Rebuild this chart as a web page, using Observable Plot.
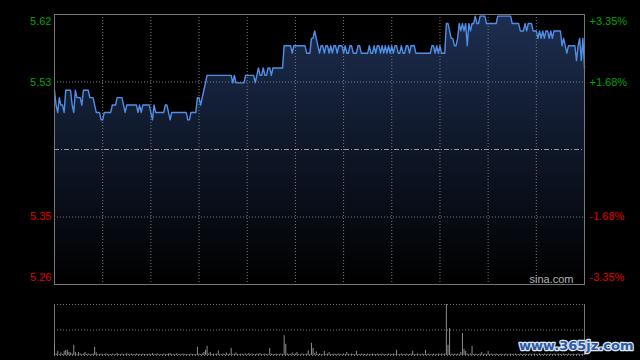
<!DOCTYPE html>
<html><head><meta charset="utf-8">
<script src="https://cdn.jsdelivr.net/npm/d3@7"></script>
<script src="https://cdn.jsdelivr.net/npm/@observablehq/plot@0.6"></script>
<style>
html,body{margin:0;padding:0;background:#000;}
#chart{position:relative;width:640px;height:360px;overflow:hidden;background:#000;}
#chart svg{display:block;}
</style></head><body><div id="chart"></div>
<script>
// previous close and intraday minute prices (HK session, 331 minutes)
const prevClose = 5.44;
const prices = [
5.52,5.50,5.49,5.51,5.50,5.50,5.49,5.52,5.52,5.52,
5.52,5.50,5.49,5.52,5.51,5.51,5.51,5.50,5.52,5.52,
5.52,5.52,5.51,5.51,5.51,5.50,5.49,5.49,5.49,5.48,
5.48,5.49,5.49,5.49,5.49,5.49,5.50,5.50,5.50,5.51,
5.51,5.51,5.51,5.50,5.49,5.50,5.50,5.50,5.50,5.50,
5.50,5.50,5.49,5.50,5.49,5.50,5.50,5.50,5.50,5.50,
5.49,5.48,5.50,5.49,5.49,5.49,5.49,5.49,5.49,5.50,
5.50,5.49,5.48,5.49,5.49,5.49,5.49,5.49,5.49,5.49,
5.49,5.49,5.49,5.48,5.48,5.49,5.49,5.49,5.49,5.51,
5.51,5.50,5.51,5.52,5.53,5.54,5.54,5.54,5.54,5.54,
5.54,5.54,5.54,5.54,5.54,5.54,5.54,5.54,5.54,5.54,
5.54,5.53,5.54,5.53,5.53,5.53,5.53,5.53,5.53,5.54,
5.54,5.54,5.54,5.54,5.54,5.53,5.54,5.55,5.54,5.54,
5.55,5.54,5.54,5.55,5.55,5.54,5.55,5.55,5.55,5.55,
5.55,5.55,5.55,5.58,5.58,5.58,5.58,5.58,5.57,5.58,
5.58,5.58,5.58,5.58,5.58,5.58,5.58,5.57,5.57,5.57,
5.59,5.59,5.60,5.59,5.58,5.57,5.58,5.58,5.57,5.58,
5.58,5.57,5.58,5.57,5.58,5.58,5.57,5.58,5.58,5.58,
5.57,5.58,5.57,5.57,5.58,5.58,5.57,5.57,5.57,5.58,
5.58,5.57,5.57,5.57,5.57,5.57,5.58,5.57,5.57,5.58,
5.57,5.58,5.58,5.57,5.58,5.57,5.58,5.57,5.58,5.57,
5.58,5.57,5.58,5.58,5.57,5.57,5.58,5.57,5.57,5.58,
5.58,5.57,5.58,5.58,5.58,5.57,5.57,5.57,5.57,5.57,
5.57,5.57,5.57,5.57,5.57,5.58,5.58,5.57,5.58,5.57,
5.58,5.57,5.57,5.57,5.61,5.61,5.60,5.59,5.59,5.58,
5.58,5.59,5.61,5.60,5.61,5.60,5.61,5.58,5.61,5.60,
5.61,5.61,5.62,5.61,5.61,5.62,5.62,5.62,5.62,5.61,
5.61,5.61,5.61,5.61,5.61,5.61,5.62,5.62,5.62,5.62,
5.62,5.62,5.62,5.62,5.62,5.61,5.61,5.61,5.61,5.61,
5.60,5.60,5.60,5.61,5.60,5.61,5.61,5.61,5.60,5.60,
5.60,5.59,5.60,5.59,5.60,5.59,5.60,5.60,5.59,5.60,
5.59,5.60,5.60,5.60,5.60,5.60,5.58,5.59,5.58,5.57,
5.58,5.58,5.58,5.58,5.58,5.56,5.58,5.59,5.56,5.59,
5.55
];
// per-minute volume (relative units)
const volumes = [
23,3,8,2,5,2,8,10,10,6,
5,3,20,6,2,6,3,2,3,6,
2,3,2,2,3,16,5,2,2,3,
2,2,3,2,2,2,3,2,2,4,
2,2,3,2,2,4,2,2,3,2,
2,3,2,2,2,3,2,2,2,3,
2,4,2,2,3,2,2,2,3,2,
2,3,4,2,2,2,3,2,2,2,
3,2,2,2,2,3,2,2,2,16,
3,2,3,6,10,18,3,6,2,3,
2,3,9,2,2,3,2,5,2,3,
14,2,3,5,2,2,3,2,2,3,
2,4,2,3,2,2,3,2,4,2,
2,3,2,2,14,3,2,2,3,2,
2,3,2,39,22,3,2,2,5,2,
3,6,2,2,3,2,2,3,9,2,
24,14,3,7,2,3,2,2,8,2,
3,6,2,2,3,2,2,3,2,2,
3,2,6,2,2,3,2,2,8,2,
2,3,2,2,2,3,2,2,3,2,
2,3,2,2,3,2,2,2,3,2,
2,3,2,10,2,2,3,2,2,3,
2,2,3,8,2,2,3,2,2,3,
2,10,2,3,2,2,3,2,2,3,
2,3,2,3,100,20,53,3,2,3,
2,3,2,6,43,12,8,3,2,3,
18,2,3,2,2,3,6,2,3,2,
8,2,3,2,2,3,2,2,3,2,
2,3,2,2,3,2,2,3,2,2,
3,2,2,3,2,2,3,2,2,3,
2,2,3,2,2,3,2,2,2,3,
2,3,2,2,3,2,2,3,2,2,
3,2,2,3,2,2,3,2,2,3,
4
];
const priceTicks = [5.62, 5.53, 5.35, 5.26];
const pctLabels = ["+3.35%", "+1.68%", "-1.68%", "-3.35%"];
const halfHours = [30, 60, 90, 120, 150, 180, 210, 240, 270, 300];
const sourceMark = "sina.com";
const siteMark = "www.365jz.com";

const GREEN = "#00a400", RED = "#e00000";
const font = "Arial, 'Liberation Sans', sans-serif";
const pdata = prices.map((p, i) => ({i, p}));
const vdata = volumes.map((v, i) => ({i, v}));
const yLo = prevClose * (1 - 0.0335), yHi = prevClose * (1 + 0.0335);
const nMin = prices.length - 1;

const labelMarks = [];
priceTicks.forEach((v, k) => {
  const col = k < 2 ? GREEN : RED;
  const dy = k === 0 ? 5 : (k === 3 ? -5 : 0);
  labelMarks.push(Plot.text([v], {y: d => d, text: d => d.toFixed(2), frameAnchor: "left", dx: -3, dy, textAnchor: "end", fill: col, fontSize: 11}));
  labelMarks.push(Plot.text([pctLabels[k]], {y: () => v, text: d => d, frameAnchor: "right", dx: 5, dy, textAnchor: "start", fill: col, fontSize: 11}));
});

const topPlot = Plot.plot({
  width: 640, height: 290,
  marginLeft: 54, marginRight: 56, marginTop: 14, marginBottom: 6,
  style: {background: "#000", fontFamily: font, fontSize: "11px", overflow: "visible"},
  x: {domain: [0, nMin], axis: null},
  y: {domain: [yLo, yHi], axis: null},
  marks: [
    Plot.areaY(pdata, {x: "i", y1: yLo, y2: "p", fill: "url(#pgrad)"}),
    Plot.ruleX(halfHours, {stroke: "#7a7a7a", strokeDasharray: "1,2"}),
    Plot.ruleY([prevClose * 1.01675, prevClose * 0.98325], {stroke: "#7a7a7a", strokeDasharray: "1,2"}),
    Plot.ruleY([prevClose], {stroke: "#9a9a9a", strokeDasharray: "5,2,1,2"}),
    Plot.lineY(pdata, {x: "i", y: "p", stroke: "#4f8fe8", strokeWidth: 1.4}),
    Plot.frame({stroke: "#777"}),
    Plot.text([sourceMark], {frameAnchor: "bottom-right", dx: -11, dy: -5, lineAnchor: "middle", textAnchor: "end", fill: "#b4b4b4", fontSize: 11}),
    ...labelMarks
  ]
});
const defs = d3.select(topPlot).insert("defs", ":first-child");
const grad = defs.append("linearGradient").attr("id", "pgrad")
  .attr("gradientUnits", "userSpaceOnUse").attr("x1", 0).attr("x2", 0).attr("y1", 14).attr("y2", 284);
grad.append("stop").attr("offset", 0).attr("stop-color", "#1d2e50");
grad.append("stop").attr("offset", 1).attr("stop-color", "#000000");

const bottomPlot = Plot.plot({
  width: 640, height: 70,
  marginLeft: 54, marginRight: 56, marginTop: 14, marginBottom: 5,
  style: {background: "#000", fontFamily: font, fontSize: "11px", overflow: "visible"},
  x: {domain: [0, nMin], axis: null},
  y: {domain: [0, 100], axis: null},
  marks: [
    Plot.ruleY([0, 50, 100], {stroke: "#7a7a7a", strokeDasharray: "1,2"}),
    Plot.ruleX([0, nMin], {stroke: "#777"}),
    Plot.ruleX(vdata, {x: "i", y1: 0, y2: "v", stroke: "#8c8c8c", strokeWidth: 1}),
    Plot.text([siteMark], {frameAnchor: "bottom-right", dx: 49, dy: -10, lineAnchor: "middle", textAnchor: "end",
      fill: "#2b5aa6", stroke: "#dfe6f2", strokeWidth: 2.5, paintOrder: "stroke",
      fontFamily: "'DejaVu Sans', sans-serif", fontWeight: "bold", fontSize: 13})
  ]
});

const chart = document.getElementById("chart");
chart.appendChild(topPlot);
chart.appendChild(bottomPlot);
</script>
</body></html>
